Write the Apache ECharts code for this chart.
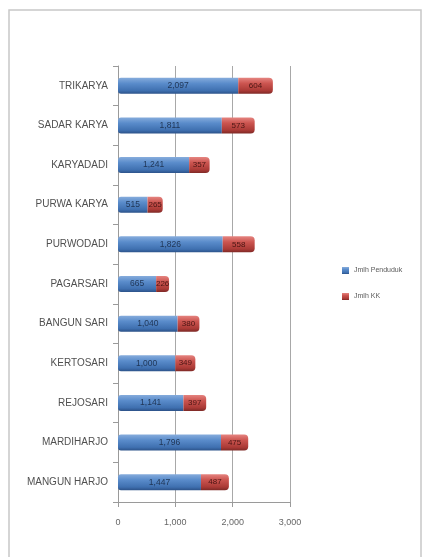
<!DOCTYPE html>
<html><head><meta charset="utf-8">
<script src="https://cdn.jsdelivr.net/npm/echarts@6/dist/echarts.min.js"></script>
<style>html,body{margin:0;padding:0;background:#fff}#c{width:428px;height:557px}</style>
</head><body><div id="c"></div>
<script>
const categories = ['MANGUN HARJO','MARDIHARJO','REJOSARI','KERTOSARI','BANGUN SARI','PAGARSARI','PURWODADI','PURWA KARYA','KARYADADI','SADAR KARYA','TRIKARYA'];
const penduduk = [1447, 1796, 1141, 1000, 1040, 665, 1826, 515, 1241, 1811, 2097];
const kk = [487, 475, 397, 349, 380, 226, 558, 265, 357, 573, 604];
const xTicks = [0, 1000, 2000, 3000];

const chart = echarts.init(document.getElementById('c'), null, {renderer:'canvas'});
const fmt = v => v.toLocaleString('en-US');
const blueGrad = new echarts.graphic.LinearGradient(0,0,0,1,[
  {offset:0,color:'#86acdc'},{offset:0.35,color:'#5a8ccb'},{offset:0.8,color:'#3f70b0'},{offset:1,color:'#2c5289'}]);
const redGrad = new echarts.graphic.LinearGradient(0,0,0,1,[
  {offset:0,color:'#e58480'},{offset:0.35,color:'#cc5550'},{offset:0.8,color:'#aa3a36'},{offset:1,color:'#7e2926'}]);

chart.setOption({
  animation:false,
  backgroundColor:'#fff',
  textStyle:{fontFamily:'Liberation Sans, Arial, sans-serif'},
  graphic:[
    {type:'rect', shape:{x:9,y:10,width:412,height:560}, style:{fill:'none', stroke:'#c8c8c8', lineWidth:1.5}, silent:true}
  ],
  legend:{
    orient:'vertical', left:337, top:262, itemWidth:7, itemHeight:7, itemGap:19,
    icon:'rect',
    textStyle:{fontSize:7, color:'#5a5a5a'},
    data:['Jmlh Penduduk','Jmlh KK']
  },
  grid:{left:118, top:66, width:172, height:436, containLabel:false},
  xAxis:{
    type:'value', min:0, max:3000, interval:1000,
    axisLabel:{fontSize:9, color:'#666', formatter:v=>fmt(v), margin:16},
    axisLine:{show:true, lineStyle:{color:'#9a9a9a'}},
    axisTick:{show:true, lineStyle:{color:'#9a9a9a'}},
    splitLine:{show:true, lineStyle:{color:'#a8a8a8', width:1}}
  },
  yAxis:{
    type:'category', data:categories,
    axisLabel:{fontSize:10, color:'#505050', margin:10},
    axisLine:{show:true, lineStyle:{color:'#9a9a9a'}},
    axisTick:{show:true, alignWithLabel:false, lineStyle:{color:'#9a9a9a'}}
  },
  series:[
    {name:'Jmlh Penduduk', type:'bar', stack:'t', data:penduduk, barWidth:16,
     itemStyle:{color:blueGrad, borderRadius:[3,0,0,3]},
     label:{show:true, position:'inside', fontSize:8.5, color:'#1f3555', formatter:p=>fmt(p.value)}},
    {name:'Jmlh KK', type:'bar', stack:'t', data:kk, barWidth:16,
     itemStyle:{color:redGrad, borderRadius:[0,4,4,0]},
     label:{show:true, position:'inside', fontSize:8, color:'#4a1513', formatter:p=>fmt(p.value)}}
  ],
  color:['#4f81bd','#c0504d']
});
</script></body></html>
